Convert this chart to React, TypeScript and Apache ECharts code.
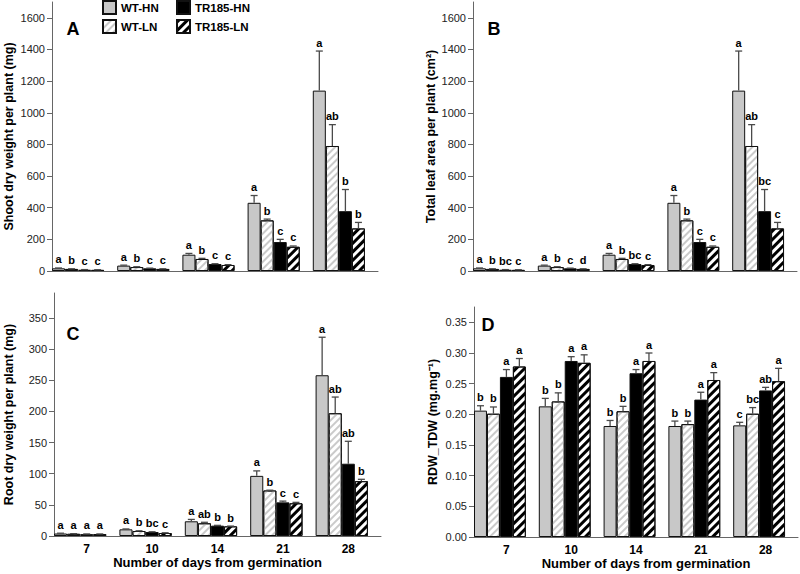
import React, { useEffect, useRef } from 'react';
import * as echarts from 'echarts';

const FONT = '"Liberation Sans", Arial, Helvetica, sans-serif';

const days = ['7', '10', '14', '21', '28'];
const seriesNames = ['WT-HN', 'WT-LN', 'TR185-HN', 'TR185-LN'];

// Panel A: shoot dry weight per plant (mg)
const shootMean = [
  [17, 34, 103, 431, 1140],
  [13, 25, 76, 320, 790],
  [8, 17, 44, 183, 378],
  [7, 13, 38, 153, 269],
];
const shootErr = [
  [2, 3, 8, 46, 250],
  [1, 2, 4, 8, 135],
  [1, 1, 2, 17, 137],
  [1, 1, 2, 5, 38],
];
const shootLetters = [
  ['a', 'a', 'a', 'a', 'a'],
  ['b', 'b', 'b', 'b', 'ab'],
  ['c', 'c', 'c', 'c', 'b'],
  ['c', 'c', 'c', 'c', 'b'],
];

// Panel B: total leaf area per plant (cm2)
const leafMean = [
  [17, 34, 103, 431, 1140],
  [13, 25, 76, 320, 790],
  [8, 17, 44, 183, 378],
  [7, 13, 38, 153, 269],
];
const leafErr = [
  [2, 3, 8, 46, 250],
  [1, 2, 4, 8, 135],
  [1, 1, 2, 17, 137],
  [1, 1, 2, 5, 38],
];
const leafLetters = [
  ['a', 'a', 'a', 'a', 'a'],
  ['b', 'b', 'b', 'b', 'ab'],
  ['bc', 'c', 'bc', 'c', 'bc'],
  ['c', 'd', 'c', 'c', 'c'],
];

// Panel C: root dry weight per plant (mg)
const rootMean = [
  [4, 10.7, 23.6, 96.5, 258],
  [3.5, 8, 20.4, 73, 197],
  [3, 6.4, 16.6, 54, 116],
  [3, 4.8, 15.5, 52.5, 88],
];
const rootErr = [
  [0.5, 0.6, 3, 8, 61],
  [0.3, 0.4, 1.6, 0.5, 26],
  [0.3, 0.4, 0.5, 2, 36],
  [0.3, 0.4, 0.4, 1.5, 3],
];
const rootLetters = [
  ['a', 'a', 'a', 'a', 'a'],
  ['a', 'b', 'ab', 'b', 'ab'],
  ['a', 'bc', 'b', 'c', 'ab'],
  ['a', 'c', 'b', 'c', 'b'],
];

// Panel D: RDW_TDW (mg.mg-1)
const ratioMean = [
  [0.206, 0.213, 0.181, 0.181, 0.182],
  [0.201, 0.221, 0.205, 0.184, 0.201],
  [0.261, 0.287, 0.267, 0.224, 0.239],
  [0.278, 0.284, 0.287, 0.256, 0.254],
];
const ratioErr = [
  [0.008, 0.013, 0.009, 0.008, 0.005],
  [0.011, 0.014, 0.008, 0.005, 0.01],
  [0.012, 0.007, 0.006, 0.012, 0.005],
  [0.013, 0.013, 0.013, 0.012, 0.021],
];
const ratioLetters = [
  ['b', 'b', 'b', 'b', 'c'],
  ['b', 'b', 'b', 'b', 'bc'],
  ['a', 'a', 'a', 'a', 'ab'],
  ['a', 'a', 'a', 'a', 'a'],
];

const ticksAB = [0, 200, 400, 600, 800, 1000, 1200, 1400, 1600];
const ticksC = [0, 50, 100, 150, 200, 250, 300, 350];
const ticksD = [0, 0.05, 0.1, 0.15, 0.2, 0.25, 0.3, 0.35];

const yNames = [
  'Shoot dry weight per plant (mg)',
  'Total leaf area per plant (cm²)',
  'Root dry weight per plant (mg)',
  'RDW_TDW (mg.mg⁻¹)',
];
const panelLetters = ['A', 'B', 'C', 'D'];
const xName = 'Number of days from germination';

const barStyles: any[] = [
  { color: '#c8c8c8', borderColor: '#111', borderWidth: 1 },
  {
    color: '#ffffff', borderColor: '#111', borderWidth: 1,
    decal: { symbol: 'rect', symbolSize: 1, dashArrayX: [1, 0], dashArrayY: [2, 3], rotation: -Math.PI / 4, color: '#cacaca' },
  },
  { color: '#000000', borderColor: '#111', borderWidth: 1 },
  {
    color: '#ffffff', borderColor: '#111', borderWidth: 1,
    decal: { symbol: 'rect', symbolSize: 1, dashArrayX: [1, 0], dashArrayY: [3, 2.5], rotation: -Math.PI / 4, color: '#000000' },
  },
];

function buildPanel(p: number, means: number[][], errs: number[][], letters: string[][]) {
  const bars = seriesNames.map((name, s) => ({
    type: 'bar',
    name,
    xAxisIndex: p,
    yAxisIndex: p,
    data: means[s],
    barGap: '0%',
    barCategoryGap: '0%',
    itemStyle: barStyles[s],
    silent: true,
  }));
  const spacer = {
    type: 'bar',
    name: 'spacer',
    xAxisIndex: p,
    yAxisIndex: p,
    data: days.map(() => '-'),
    barGap: '0%',
    barCategoryGap: '0%',
    silent: true,
  };
  const data: number[][] = [];
  for (let s = 0; s < seriesNames.length; s++) {
    for (let d = 0; d < days.length; d++) {
      data.push([d, s, means[s][d], errs[s][d]]);
    }
  }
  const custom = {
    type: 'custom',
    name: 'err' + p,
    xAxisIndex: p,
    yAxisIndex: p,
    data,
    encode: { x: 0, y: 2 },
    clip: false,
    z: 5,
    silent: true,
    renderItem: (params: any, api: any) => {
      const d = api.value(0);
      const s = api.value(1);
      const v = api.value(2);
      const e = api.value(3);
      const band = api.size([1, 0])[0];
      const w = band / 5;
      const base = api.coord([d, v]);
      const top = api.coord([d, v + e]);
      const x = base[0] + (s - 2) * w;
      const stroke = '#4a4a4a';
      return {
        type: 'group',
        children: [
          { type: 'line', shape: { x1: x, y1: base[1], x2: x, y2: top[1] }, style: { stroke, lineWidth: 1.3 } },
          { type: 'line', shape: { x1: x - 3.5, y1: top[1], x2: x + 3.5, y2: top[1] }, style: { stroke, lineWidth: 1.3 } },
          {
            type: 'text',
            x,
            y: top[1] - 3,
            style: {
              text: letters[s][d],
              align: 'center',
              verticalAlign: 'bottom',
              fill: '#000',
              font: `bold 11px ${FONT}`,
            },
          },
        ],
      };
    },
  };
  return [...bars, spacer, custom];
}

const grids = [
  { left: 52, right: 422, top: 2, bottom: 303 },
  { left: 473, right: 3, top: 2, bottom: 303 },
  { left: 54, right: 419, top: 293, bottom: 38 },
  { left: 474, right: 2, top: 307, bottom: 37 },
];
const yMax = [1700, 1700, 390, 0.375];
const yTicks = [ticksAB, ticksAB, ticksC, ticksD];
const yGaps = [37, 36, 39, 35];
const letterPos = [
  [73, 29],
  [494, 29],
  [73, 334],
  [488, 325],
];

export default function App() {
  const ref = useRef<HTMLDivElement>(null);
  useEffect(() => {
    if (!ref.current) return;
    const chart = echarts.init(ref.current, undefined, { renderer: 'svg' });
    const axisLine = { show: true, lineStyle: { color: '#666', width: 1 } };
    const xAxis = grids.map((_, i) => ({
      type: 'category',
      gridIndex: i,
      data: days,
      axisLine,
      axisTick: { show: false },
      axisLabel: i >= 2
        ? { show: true, margin: 7, color: '#000', fontWeight: 'bold', fontSize: 12, fontFamily: FONT }
        : { show: false },
      name: i >= 2 ? xName : '',
      nameLocation: 'middle',
      nameGap: 20,
      nameTextStyle: {
        color: '#000', fontWeight: 'bold', fontSize: 13, fontFamily: FONT,
        padding: i === 3 ? [0, 0, 0, 20] : 0,
      },
    }));
    const yAxis = grids.map((_, i) => ({
      type: 'value',
      gridIndex: i,
      min: 0,
      max: yMax[i],
      splitLine: { show: false },
      axisLine,
      axisTick: { show: true, length: 5, inside: false, lineStyle: { color: '#666' }, customValues: yTicks[i] },
      axisLabel: {
        margin: 7,
        color: '#222',
        fontSize: 11,
        fontFamily: FONT,
        customValues: yTicks[i],
        formatter: (v: number) => (i === 3 ? v.toFixed(2) : String(Math.round(v))),
      },
      name: yNames[i],
      nameLocation: 'middle',
      nameGap: yGaps[i],
      nameTextStyle: { color: '#000', fontWeight: 'bold', fontSize: 12.5, fontFamily: FONT },
    }));
    const series = [
      ...buildPanel(0, shootMean, shootErr, shootLetters),
      ...buildPanel(1, leafMean, leafErr, leafLetters),
      ...buildPanel(2, rootMean, rootErr, rootLetters),
      ...buildPanel(3, ratioMean, ratioErr, ratioLetters),
    ];
    const legendCommon = {
      top: 0,
      orient: 'vertical',
      icon: 'rect',
      itemWidth: 13,
      itemHeight: 13,
      itemGap: 4,
      itemTextGap: 6,
      padding: 0,
      selectedMode: false,
      textStyle: { color: '#000', fontWeight: 'bold', fontSize: 11.5, fontFamily: FONT },
    };
    chart.setOption({
      animation: false,
      backgroundColor: '#ffffff',
      grid: grids,
      xAxis,
      yAxis,
      legend: [
        { ...legendCommon, left: 102, data: ['WT-HN', 'WT-LN'] },
        { ...legendCommon, left: 176, data: ['TR185-HN', 'TR185-LN'] },
      ],
      graphic: panelLetters.map((t, i) => ({
        type: 'text',
        x: letterPos[i][0],
        y: letterPos[i][1],
        style: { text: t, align: 'center', verticalAlign: 'middle', fill: '#000', font: `bold 18px ${FONT}` },
      })),
      series,
    });
    return () => chart.dispose();
  }, []);
  return <div ref={ref} style={{ position: 'fixed', left: 0, top: 0, width: 800, height: 574 }} />;
}
